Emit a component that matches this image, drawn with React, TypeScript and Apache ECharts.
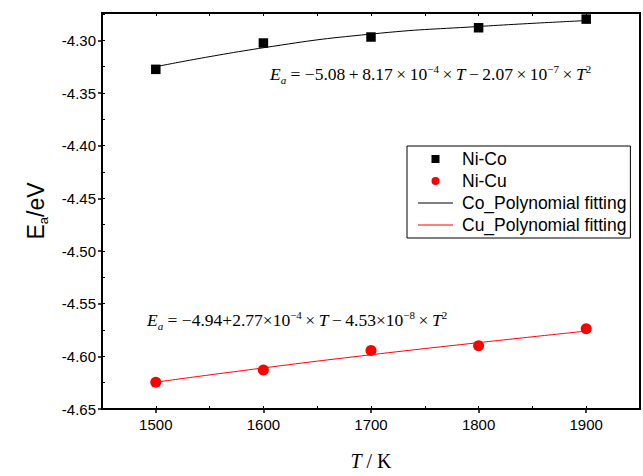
import React, { useEffect, useRef } from "react";
import * as echarts from "echarts";

const temps = [1500, 1600, 1700, 1800, 1900];
const niCo = [-4.3275, -4.3025, -4.2968, -4.288, -4.2798];
const niCu = [-4.6245, -4.613, -4.5945, -4.59, -4.5738];
const coFit = [-4.325, -4.307, -4.294, -4.2868, -4.2812];
const cuFit = [-4.6245, -4.611, -4.5985, -4.587, -4.576];
const seriesNames = ["Ni-Co", "Ni-Cu", "Co_Polynomial fitting", "Cu_Polynomial fitting"];
const ts = "\u2009";
const eqCo = `{i|E}{sub|a} = −5.08${ts}+${ts}8.17${ts}×${ts}10{sup|−4}${ts}×${ts}{i|T}${ts}−${ts}2.07${ts}×${ts}10{sup|−7}${ts}×${ts}{i|T}{sup|2}`;
const eqCu = `{i|E}{sub|a} = −4.94+2.77×10{sup|−4}${ts}×${ts}{i|T}${ts}−${ts}4.53×10{sup|−8}${ts}×${ts}{i|T}{sup|2}`;

const pairs = (ys: number[]) => temps.map((t, i) => [t, ys[i]]);

const eqRich = {
  i: { fontStyle: "italic", fontFamily: "Liberation Serif", fontSize: 17.5, lineHeight: 22, fill: "#000" },
  sub: { fontStyle: "italic", fontFamily: "Liberation Serif", fontSize: 11, lineHeight: 9, verticalAlign: "bottom", fill: "#000" },
  sup: { fontFamily: "Liberation Serif", fontSize: 11, lineHeight: 12, verticalAlign: "top", fill: "#000" },
};

const squareIcon = "path://M0,0h10v10h-10z";
const circleIcon = "path://M5,0A5,5,0,1,1,5,10A5,5,0,1,1,5,0z";
const lineIcon = "path://M0,0h35v1h-35z";

export default function App() {
  const ref = useRef<HTMLDivElement>(null);
  useEffect(() => {
    const chart = echarts.init(ref.current!, null, { renderer: "svg" });
    const xMin = 1450, xMax = 1950, yMin = -4.65, yMax = -4.274;
    chart.setOption({
      animation: false,
      backgroundColor: "#fff",
      grid: { left: 102, right: 3, top: 13, bottom: 63, show: true, borderColor: "#000", borderWidth: 2 },
      xAxis: [
        {
          type: "value", min: xMin, max: xMax, gridIndex: 0, position: "bottom",
          name: "{i|T}{n| / K}", nameLocation: "middle", nameGap: 42,
          nameTextStyle: {
            rich: {
              i: { fontStyle: "italic", fontFamily: "Liberation Serif", fontSize: 20, color: "#000" },
              n: { fontFamily: "Liberation Serif", fontSize: 20, color: "#000" },
            },
          },
          axisLine: { show: false },
          axisTick: { show: true, inside: false, length: 4, lineStyle: { color: "#000", width: 1.5 } },
          axisLabel: { showMinLabel: false, showMaxLabel: false, color: "#000", fontSize: 15, fontFamily: "Liberation Sans", margin: 8, formatter: (v: number) => String(v) },
          splitLine: { show: false },
        },
        {
          type: "value", min: xMin, max: xMax, interval: 50, gridIndex: 0, position: "bottom",
          axisLine: { show: false }, axisLabel: { show: false }, splitLine: { show: false },
          axisTick: { show: true, inside: true, length: 3, lineStyle: { color: "#000", width: 1 } },
        },
        {
          type: "value", min: xMin, max: xMax, interval: 50, gridIndex: 0, position: "top",
          axisLine: { show: false }, axisLabel: { show: false }, splitLine: { show: false },
          axisTick: { show: true, inside: true, length: 3, lineStyle: { color: "#000", width: 1 } },
        },
      ],
      yAxis: [
        {
          type: "value", min: yMin, max: yMax, interval: 0.05, position: "left",
          name: "{e|E}{s|a}{e|/eV}", nameLocation: "middle", nameRotate: 90, nameGap: 52,
          nameTextStyle: {
            rich: {
              e: { fontFamily: "Liberation Sans", fontSize: 23, lineHeight: 28, color: "#000" },
              s: { fontFamily: "Liberation Sans", fontSize: 13, lineHeight: 12, verticalAlign: "bottom", color: "#000" },
            },
          },
          axisLine: { show: false },
          axisTick: { show: true, inside: false, length: 4, lineStyle: { color: "#000", width: 1.5 } },
          axisLabel: { showMaxLabel: false, color: "#000", fontSize: 15, fontFamily: "Liberation Sans", margin: 6, formatter: (v: number) => v.toFixed(2) },
          splitLine: { show: false },
        },
        {
          type: "value", min: yMin, max: yMax, interval: 0.025, position: "left",
          axisLine: { show: false }, axisLabel: { show: false }, splitLine: { show: false },
          axisTick: { show: true, inside: true, length: 3, lineStyle: { color: "#000", width: 1 } },
        },
      ],
      legend: {
        data: [
          { name: seriesNames[0], icon: squareIcon },
          { name: seriesNames[1], icon: circleIcon },
          { name: seriesNames[2], icon: lineIcon },
          { name: seriesNames[3], icon: lineIcon },
        ],
        orient: "vertical", left: 407, top: 146,
        padding: [4, 4, 4, 11], itemGap: 4, itemWidth: 35, itemHeight: 8,
        borderColor: "#000", borderWidth: 1, backgroundColor: "#fff",
        textStyle: { fontFamily: "Liberation Sans", fontSize: 17.5, color: "#000", padding: [0, 0, 0, 4] },
      },
      series: [
        { name: seriesNames[0], type: "scatter", data: pairs(niCo), symbol: "rect", symbolSize: 9.5, itemStyle: { color: "#000", opacity: 1 }, z: 3 },
        { name: seriesNames[1], type: "scatter", data: pairs(niCu), symbol: "circle", symbolSize: 11, itemStyle: { color: "#ff0000", opacity: 1 }, z: 3 },
        { name: seriesNames[2], type: "line", data: pairs(coFit), smooth: true, showSymbol: false, symbol: "none", lineStyle: { color: "#000", width: 1 }, itemStyle: { color: "#000" }, z: 2 },
        { name: seriesNames[3], type: "line", data: pairs(cuFit), smooth: true, showSymbol: false, symbol: "none", lineStyle: { color: "#ff0000", width: 1 }, itemStyle: { color: "#ff0000" }, z: 2 },
      ],
      graphic: [
        { type: "text", left: 270, top: 63, style: { text: eqCo, fontFamily: "Liberation Serif", fontSize: 17.5, lineHeight: 22, fill: "#000", rich: eqRich } },
        { type: "text", left: 147, top: 309, style: { text: eqCu, fontFamily: "Liberation Serif", fontSize: 17.5, lineHeight: 22, fill: "#000", rich: eqRich } },
      ],
    });
    return () => chart.dispose();
  }, []);
  return <div ref={ref} style={{ position: "fixed", left: 0, top: 0, width: 643, height: 476 }} />;
}
